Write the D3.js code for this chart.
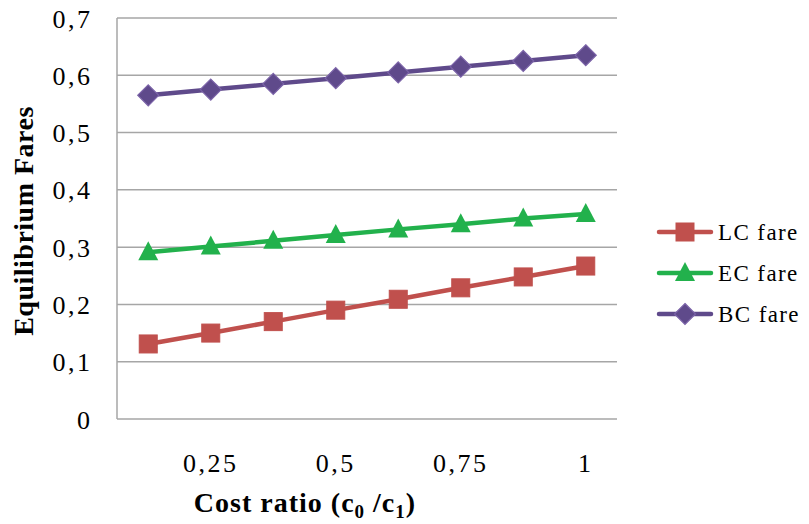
<!DOCTYPE html>
<html>
<head>
<meta charset="utf-8">
<script src="https://cdn.jsdelivr.net/npm/d3@7"></script>
<style>
  html, body { margin: 0; padding: 0; background: #fff; }
  svg { display: block; }
</style>
</head>
<body>
<svg id="chart" width="809" height="524"></svg>
<script>
const categories = [0.125, 0.25, 0.375, 0.5, 0.625, 0.75, 0.875, 1];
const xTickLabels = ["", "0,25", "", "0,5", "", "0,75", "", "1"];
const yTicks = [0, 0.1, 0.2, 0.3, 0.4, 0.5, 0.6, 0.7];
const yTickLabels = ["0", "0,1", "0,2", "0,3", "0,4", "0,5", "0,6", "0,7"];
const lcFare = [0.131, 0.150, 0.170, 0.190, 0.209, 0.229, 0.248, 0.267];
const ecFare = [0.291, 0.301, 0.311, 0.321, 0.331, 0.340, 0.350, 0.358];
const bcFare = [0.565, 0.575, 0.585, 0.595, 0.605, 0.615, 0.625, 0.635];
const seriesNames = ["LC fare", "EC fare", "BC fare"];

(function () {
const series = [
  { name: seriesNames[0], values: lcFare, color: "#C0504D", stroke: "#C0504D", marker: "square" },
  { name: seriesNames[1], values: ecFare, color: "#22B14C", stroke: "#22B14C", marker: "triangle" },
  { name: seriesNames[2], values: bcFare, color: "#5F4A8B", stroke: "#7B63A8", marker: "diamond" }
];

const svg = d3.select("#chart");
const mLeft = 117, mRight = 617, mTop = 18, mBottom = 419;
const font = "'Liberation Serif', 'Times New Roman', serif";

const x = d3.scaleBand().domain(categories).range([mLeft, mRight]).padding(0);
const y = d3.scaleLinear().domain([0, 0.7]).range([mBottom, mTop]);
const cx = d => x(d) + x.bandwidth() / 2;

// gridlines
svg.append("g").selectAll("line").data(yTicks.slice(1)).join("line")
  .attr("x1", mLeft).attr("x2", mRight)
  .attr("y1", d => y(d)).attr("y2", d => y(d))
  .attr("stroke", "#A6A6A6").attr("stroke-width", 1.5);

// axes lines
svg.append("line").attr("x1", mLeft).attr("x2", mLeft).attr("y1", y(0.7)).attr("y2", mBottom)
  .attr("stroke", "#A6A6A6").attr("stroke-width", 1.5);
svg.append("line").attr("x1", mLeft).attr("x2", mRight).attr("y1", mBottom).attr("y2", mBottom)
  .attr("stroke", "#A6A6A6").attr("stroke-width", 1.5);

// y tick labels
svg.append("g").selectAll("text").data(yTicks).join("text")
  .attr("x", 92.5).attr("y", d => y(d) + 9.5)
  .attr("text-anchor", "end")
  .style("font-family", font).style("font-size", "26px").style("letter-spacing", "2.5px").attr("fill", "#000")
  .text((d, i) => yTickLabels[i]);

// x tick labels
svg.append("g").selectAll("text").data(categories).join("text")
  .attr("x", d => cx(d)).attr("y", 472)
  .attr("text-anchor", "middle")
  .style("font-family", font).style("font-size", "26px").style("letter-spacing", "2.5px").attr("fill", "#000")
  .text((d, i) => xTickLabels[i]);

// axis titles
svg.append("text")
  .attr("transform", "translate(33,221) rotate(-90)")
  .attr("text-anchor", "middle")
  .style("font-family", font).style("font-size", "28px").style("font-weight", "bold")
  .style("letter-spacing", "0.5px")
  .text("Equilibrium Fares");

const xt = svg.append("text")
  .attr("x", 305).attr("y", 512)
  .attr("text-anchor", "middle")
  .style("font-family", font).style("font-size", "28px").style("font-weight", "bold")
  .style("letter-spacing", "1px");
xt.append("tspan").text("Cost ratio (c");
xt.append("tspan").attr("dy", 6).style("font-size", "19px").text("0");
xt.append("tspan").attr("dy", -6).text(" /c");
xt.append("tspan").attr("dy", 6).style("font-size", "19px").text("1");
xt.append("tspan").attr("dy", -6).text(")");

function drawMarker(g, type, px, py, s) {
  if (type === "square") {
    g.append("rect").attr("x", px - 9).attr("y", py - 9).attr("width", 18).attr("height", 18)
      .attr("fill", s.color).attr("stroke", s.stroke).attr("stroke-width", 1);
  } else if (type === "triangle") {
    g.append("path").attr("d", `M${px},${py - 11}L${px + 10},${py + 8}L${px - 10},${py + 8}Z`)
      .attr("fill", s.color);
  } else {
    g.append("path").attr("d", `M${px},${py - 10.5}L${px + 10.5},${py}L${px},${py + 10.5}L${px - 10.5},${py}Z`)
      .attr("fill", s.color).attr("stroke", s.stroke).attr("stroke-width", 1.2);
  }
}

const line = d3.line().x((d, i) => cx(categories[i])).y(d => y(d));

series.forEach(s => {
  const g = svg.append("g");
  g.append("path").datum(s.values).attr("d", line)
    .attr("fill", "none").attr("stroke", s.color).attr("stroke-width", 4.5)
    .attr("stroke-linejoin", "round").attr("stroke-linecap", "round");
  s.values.forEach((v, i) => drawMarker(g, s.marker, cx(categories[i]), y(v), s));
});

// legend
const legendY = [232, 273, 314];
series.forEach((s, i) => {
  const g = svg.append("g");
  const ly = legendY[i];
  g.append("line").attr("x1", 659).attr("x2", 711).attr("y1", ly).attr("y2", ly)
    .attr("stroke", s.color).attr("stroke-width", 4.5).attr("stroke-linecap", "round");
  drawMarker(g, s.marker, 685, ly, s);
  g.append("text").attr("x", 718).attr("y", ly + 8)
    .style("font-family", font).style("font-size", "23px").style("letter-spacing", "1.4px")
    .text(s.name);
});
})();
</script>
</body>
</html>
